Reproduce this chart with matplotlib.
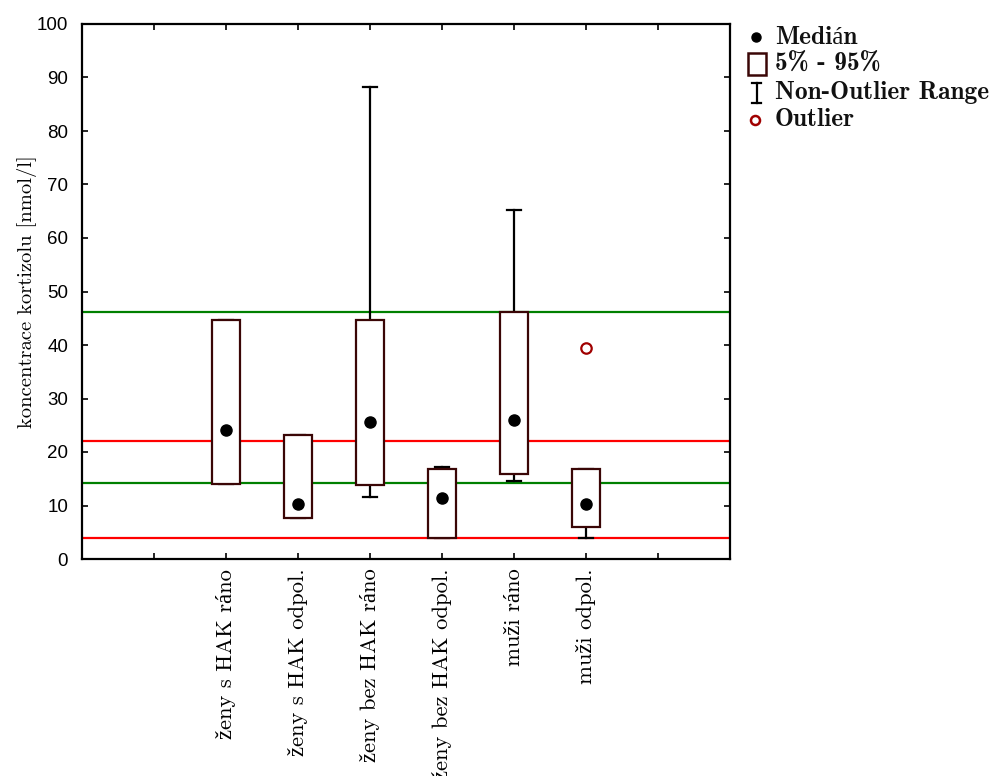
import matplotlib
matplotlib.use("Agg")
import matplotlib.pyplot as plt
from matplotlib.lines import Line2D
from matplotlib.patches import Rectangle
import numpy as np

# ---- data ----
categories = ["ženy s HAK ráno", "ženy s HAK odpol.", "ženy bez HAK ráno",
              "ženy bez HAK odpol.", "muži ráno", "muži odpol."]
medians = [24.1, 10.3, 25.6, 11.4, 26.0, 10.2]
p05 = [14.1, 7.7, 13.8, 3.9, 15.8, 5.9]
p95 = [44.6, 23.2, 44.6, 16.8, 46.2, 16.9]
whisk_lo = [14.1, 7.7, 11.5, 3.9, 14.6, 3.9]
whisk_hi = [44.6, 23.2, 88.2, 17.2, 65.2, 16.9]
outliers = [[], [], [], [], [], [39.4]]
green_lines = [46.2, 14.2]
red_lines = [22.1, 3.9]
yticks = [0, 10, 20, 30, 40, 50, 60, 70, 80, 90, 100]
legend_labels = ["Medián", "5% - 95%", "Non-Outlier Range", "Outlier"]

SERIF = ["cmr10", "Liberation Serif", "DejaVu Serif"]
SERIF_B = ["cmb10", "Liberation Serif", "DejaVu Serif"]

box_edge = "#3a0606"
out_col = "#a00000"

W, H = 992, 776
fig = plt.figure(figsize=(W/100, H/100), dpi=100)
ax = fig.add_axes([82/W, 1-559/H, (730-82)/W, (559-24)/H])

positions = np.arange(2, 2 + len(categories))

for v in green_lines:
    ax.axhline(v, color="#008000", lw=1.6, zorder=1)
for v in red_lines:
    ax.axhline(v, color="#ff0000", lw=1.6, zorder=1)

stats = []
for i in range(len(categories)):
    stats.append(dict(med=medians[i], q1=p05[i], q3=p95[i],
                      whislo=whisk_lo[i], whishi=whisk_hi[i],
                      fliers=outliers[i]))

ax.bxp(stats, positions=positions, widths=0.4, patch_artist=True,
       showfliers=True, capwidths=0.19,
       boxprops=dict(facecolor="white", edgecolor=box_edge, linewidth=1.6, zorder=3),
       whiskerprops=dict(color="black", linewidth=1.6, zorder=2),
       capprops=dict(color="black", linewidth=1.6, zorder=2),
       medianprops=dict(visible=False),
       flierprops=dict(marker="o", markerfacecolor="white", markeredgecolor=out_col,
                       markersize=7.5, markeredgewidth=1.6, zorder=4))

ax.plot(positions, medians, "o", color="black", markersize=8, zorder=5, linestyle="none")

ax.set_xlim(0, 9)
ax.set_ylim(0, 100)
ax.set_xticks(np.arange(1, 9))
ax.set_xticklabels([""] + categories + [""], rotation=90, family=SERIF,
                   fontsize=16.3, va="top", ha="center")
ax.set_yticks(yticks)
ax.set_yticklabels([str(t) for t in yticks], family="Liberation Sans", fontsize=13.5)
ax.tick_params(direction="in", top=True, right=True, length=4, width=1.2)
ax.tick_params(axis="x", pad=7)
ax.tick_params(axis="y", pad=10)
for s in ax.spines.values():
    s.set_linewidth(1.6)

ax.set_ylabel("koncentrace kortizolu [nmol/l]", family=SERIF, fontsize=14.8, labelpad=0)

# ---- legend (drawn manually at the right) ----
def fx(px):
    return px / W

def fy(py):
    return 1 - py / H

rows_y = [37, 64, 93, 120]
mx = 756
fig.add_artist(Line2D([fx(mx)], [fy(rows_y[0])], marker="o", color="black",
                      markersize=6.5, transform=fig.transFigure))
fig.add_artist(Rectangle((fx(748), fy(rows_y[1] + 11)), 18/W, 22/H, facecolor="white",
                         edgecolor=box_edge, linewidth=1.8, transform=fig.transFigure))
yi = rows_y[2]
fig.add_artist(Line2D([fx(mx - 4), fx(mx + 5), None, fx(mx + 0.5), fx(mx + 0.5), None,
                       fx(mx - 4), fx(mx + 5)],
                      [fy(yi - 10), fy(yi - 10), None, fy(yi - 10), fy(yi + 10), None,
                       fy(yi + 10), fy(yi + 10)],
                      color="black", lw=1.6, transform=fig.transFigure))
fig.add_artist(Line2D([fx(mx - 1)], [fy(rows_y[3])], marker="o", markerfacecolor="white",
                      markeredgecolor=out_col, markeredgewidth=1.8, markersize=6.5,
                      transform=fig.transFigure))
for lab, y in zip(legend_labels, rows_y):
    fig.text(fx(775), fy(y), lab, family=SERIF_B, fontsize=18.3, va="center", ha="left",
             color="#111111")

fig.savefig("out.png", dpi=100)
